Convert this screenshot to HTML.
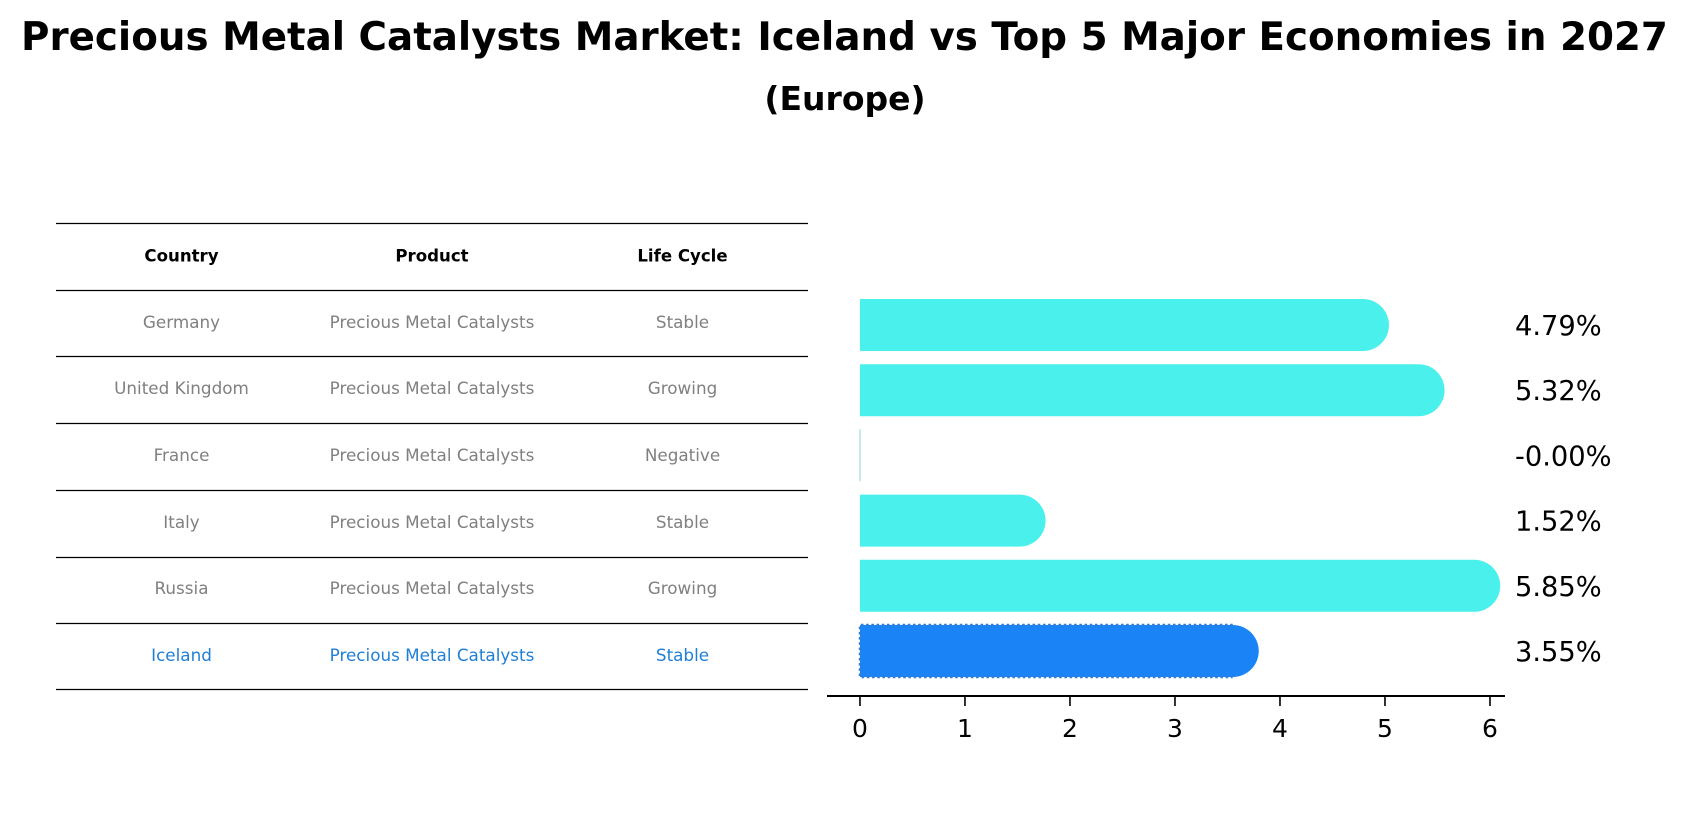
<!DOCTYPE html>
<html lang="en">
<head>
<meta charset="utf-8">
<title>Precious Metal Catalysts Market</title>
<style>
html,body{margin:0;padding:0;background:#fff;width:1688px;height:823px;overflow:hidden}
svg{display:block}
text{font-family:"DejaVu Sans","Liberation Sans",sans-serif}
.hdr{font-size:13.4px;font-weight:700;fill:#000;text-anchor:middle}
.cell{font-size:13.4px;fill:#808080;text-anchor:middle}
.hl{fill:#1f7fd6}
.rule{stroke:#000;stroke-width:1.2}
</style>
</head>
<body>
<svg id="chart" xmlns="http://www.w3.org/2000/svg" width="1688" height="823" viewBox="0 0 1688 823">
  <text x="844.500" y="50" text-anchor="middle" font-size="38.800" font-weight="700">Precious Metal Catalysts Market: Iceland vs Top 5 Major Economies in 2027</text>
  <text x="845" y="110" text-anchor="middle" font-size="33" font-weight="700">(Europe)</text>

  <g style="font-size:16.800px">
    <line class="rule" x1="56" x2="808" y1="223.500" y2="223.500"/>
    <line class="rule" x1="56" x2="808" y1="290.500" y2="290.500"/>
    <line class="rule" x1="56" x2="808" y1="356.500" y2="356.500"/>
    <line class="rule" x1="56" x2="808" y1="423.500" y2="423.500"/>
    <line class="rule" x1="56" x2="808" y1="490.500" y2="490.500"/>
    <line class="rule" x1="56" x2="808" y1="557.500" y2="557.500"/>
    <line class="rule" x1="56" x2="808" y1="623.500" y2="623.500"/>
    <line class="rule" x1="56" x2="808" y1="689.500" y2="689.500"/>

    <text class="hdr" style="font-size:16.6px" x="181.500" y="261.500">Country</text>
    <text class="hdr" style="font-size:16.6px" x="432" y="261.500">Product</text>
    <text class="hdr" style="font-size:16.6px" x="682.500" y="261.500">Life Cycle</text>

    <text class="cell" style="font-size:16.8px" x="181.500" y="328">Germany</text>
    <text class="cell" style="font-size:16.8px" x="432" y="328">Precious Metal Catalysts</text>
    <text class="cell" style="font-size:16.8px" x="682.500" y="328">Stable</text>

    <text class="cell" style="font-size:16.8px" x="181.500" y="394">United Kingdom</text>
    <text class="cell" style="font-size:16.8px" x="432" y="394">Precious Metal Catalysts</text>
    <text class="cell" style="font-size:16.8px" x="682.500" y="394">Growing</text>

    <text class="cell" style="font-size:16.8px" x="181.500" y="461">France</text>
    <text class="cell" style="font-size:16.8px" x="432" y="461">Precious Metal Catalysts</text>
    <text class="cell" style="font-size:16.8px" x="682.500" y="461">Negative</text>

    <text class="cell" style="font-size:16.8px" x="181.500" y="528">Italy</text>
    <text class="cell" style="font-size:16.8px" x="432" y="528">Precious Metal Catalysts</text>
    <text class="cell" style="font-size:16.8px" x="682.500" y="528">Stable</text>

    <text class="cell" style="font-size:16.8px" x="181.500" y="594">Russia</text>
    <text class="cell" style="font-size:16.8px" x="432" y="594">Precious Metal Catalysts</text>
    <text class="cell" style="font-size:16.8px" x="682.500" y="594">Growing</text>

    <text class="cell hl" style="font-size:16.8px" x="181.500" y="661">Iceland</text>
    <text class="cell hl" style="font-size:16.8px" x="432" y="661">Precious Metal Catalysts</text>
    <text class="cell hl" style="font-size:16.8px" x="682.500" y="661">Stable</text>
  </g>

  <g id="plot"></g>
</svg>
<script>
const categories = ["Germany", "United Kingdom", "France", "Italy", "Russia", "Iceland"];
const growthValues = [4.79, 5.32, -0.001, 1.52, 5.85, 3.55];
const highlightCategory = "Iceland";
const xTickValues = [0, 1, 2, 3, 4, 5, 6];

const SVG_NS = "http://www.w3.org/2000/svg";
const plot = document.getElementById("plot");
const xDomain = [-0.314, 6.143];
const xRange = [827, 1505];
const xScale = function (v) {
  return xRange[0] + (v - xDomain[0]) * (xRange[1] - xRange[0]) / (xDomain[1] - xDomain[0]);
};
const bandTop = 299;
const bandStep = 65.2;
const barHeight = 52;
const yScale = function (i) {
  return bandTop + i * bandStep;
};
const slug = function (s) {
  return s.toLowerCase().replace(/\s+/g, "-");
};
const make = function (tag, attrs) {
  const el = document.createElementNS(SVG_NS, tag);
  Object.keys(attrs).forEach(function (k) {
    el.setAttribute(k, attrs[k]);
  });
  plot.appendChild(el);
  return el;
};

categories.forEach(function (name, i) {
  const v = growthValues[i];
  const x0 = xScale(0);
  const top = yScale(i);
  const r = barHeight / 2;
  const isHighlight = name === highlightCategory;
  if (v > 0) {
    const xv = xScale(v);
    const d = "M" + x0 + " " + top + "H" + xv + "A" + r + " " + r + " 0 0 1 " + xv + " " + (top + barHeight) + "H" + x0 + "Z";
    const bar = make("path", { d: d, fill: isHighlight ? "#1a83f5" : "#4af0ec" });
    
    
    if (isHighlight) {
      const outline = make("path", {
        d: "M" + xv + " " + top + "H" + x0 + "V" + (top + barHeight) + "H" + xv,
        fill: "none",
        stroke: "#2f7fd8",
        "stroke-width": 2.4,
        "stroke-dasharray": "2.6 2.6"
      });
      
      
    }
  } else {
    const stub = make("line", {
      x1: x0, x2: x0, y1: top, y2: top + barHeight,
      stroke: "#9fdcd8", "stroke-width": 1.2
    });
    
    
  }
  const label = make("text", { x: 1515, y: top + 36, "font-size": 27.3, fill: "#000" });
  label.textContent = v.toFixed(2) + "%";
  
  
});

const axisLine = make("line", {
  x1: xRange[0], x2: xRange[1], y1: 696, y2: 696,
  stroke: "#000", "stroke-width": 2
});



xTickValues.forEach(function (t) {
  const x = xScale(t);
  const tick = make("line", {
    x1: x, x2: x, y1: 696, y2: 706,
    stroke: "#000", "stroke-width": 1.6
  });
  
  
  const tickLabel = make("text", {
    x: x, y: 737, "text-anchor": "middle", "font-size": 25, fill: "#000"
  });
  tickLabel.textContent = String(t);
  
  
});
</script>
</body>
</html>
